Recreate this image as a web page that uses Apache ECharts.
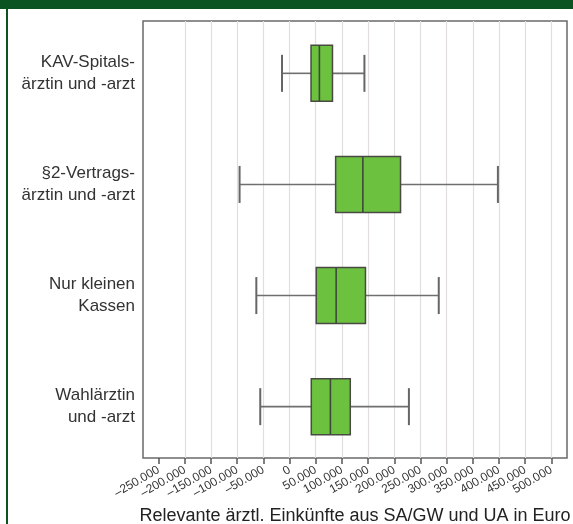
<!DOCTYPE html>
<html>
<head>
<meta charset="utf-8">
<style>
  html, body { margin: 0; padding: 0; background: #ffffff; }
  #chart { width: 573px; height: 524px; }
</style>
<script src="https://cdn.jsdelivr.net/npm/echarts@6/dist/echarts.min.js"></script>
</head>
<body>
<div id="chart"></div>
<script>
// ---- data ----
const categories = [
  'KAV-Spitals-\närztin und -arzt',
  '§2-Vertrags-\närztin und -arzt',
  'Nur kleinen\nKassen',
  'Wahlärztin\nund -arzt'
];
const whiskerLow  = [-14500, -95500, -63500, -56000];
const quartile1   = [41000, 88000, 51000, 41500];
const medians     = [57000, 140000, 89000, 78000];
const quartile3   = [82000, 212000, 145000, 116000];
const whiskerHigh = [143000, 398000, 285000, 228000];
const tickValues = [-250000, -200000, -150000, -100000, -50000, 0, 50000, 100000, 150000, 200000, 250000, 300000, 350000, 400000, 450000, 500000];
const tickLabels = ['–250.000', '–200.000', '–150.000', '–100.000', '–50.000', '0', '50.000', '100.000', '150.000', '200.000', '250.000', '300.000', '350.000', '400.000', '450.000', '500.000'];
const axisTitle = 'Relevante ärztl. Einkünfte aus SA/GW und UA in Euro';

const seriesData = categories.map((c, i) => [i, whiskerLow[i], quartile1[i], medians[i], quartile3[i], whiskerHigh[i]]);

const FONT = '"Liberation Sans", Arial, Helvetica, sans-serif';
const chart = echarts.init(document.getElementById('chart'), null, { renderer: 'canvas' });

const gridLineColors = tickValues.map((v, i) => i === 0 ? 'rgba(0,0,0,0)' : '#e2dede');

const option = {
  backgroundColor: '#ffffff',
  animation: false,
  textStyle: { fontFamily: FONT },
  graphic: [
    { type: 'rect', left: 0, top: 0, shape: { width: 573, height: 9 }, style: { fill: '#0b5321' }, z: 100 },
    { type: 'rect', left: 6, top: 0, shape: { width: 2, height: 524 }, style: { fill: '#0b5321' }, z: 100 }
  ],
  grid: {
    left: 143, right: 6, top: 21, bottom: 66,
    outerBoundsMode: 'none',
    containLabel: false,
    show: true, borderColor: '#6a6a6a', borderWidth: 1.5, backgroundColor: 'transparent'
  },
  xAxis: {
    type: 'value',
    position: 'bottom',
    min: -280000,
    max: 530000,
    axisLine: { show: false, onZero: false },
    axisTick: {
      show: true, length: 6, customValues: tickValues,
      lineStyle: { color: '#555', width: 1.5 }
    },
    splitLine: {
      show: true,
      lineStyle: { color: gridLineColors, width: 1.2 }
    },
    axisLabel: {
      customValues: tickValues,
      rotate: 30,
      margin: 11,
      fontSize: 12,
      color: '#333',
      fontFamily: FONT,
      formatter: function (v) {
        const idx = tickValues.indexOf(v);
        return idx >= 0 ? tickLabels[idx] : '';
      }
    },
    name: axisTitle,
    nameLocation: 'middle',
    nameGap: 49,
    nameTextStyle: { fontSize: 18, color: '#222', fontFamily: FONT }
  },
  yAxis: {
    type: 'value',
    position: 'left',
    inverse: true,
    min: -0.471,
    max: 3.462,
    axisLine: { show: false, onZero: false },
    axisTick: { show: false },
    splitLine: { show: false },
    axisLabel: {
      customValues: [0, 1, 2, 3],
      margin: 8,
      fontSize: 17,
      lineHeight: 22,
      color: '#333',
      fontFamily: FONT,
      align: 'right',
      formatter: function (v) { return categories[Math.round(v)] || ''; }
    }
  },
  series: [{
    type: 'custom',
    data: seriesData,
    encode: { x: [1, 2, 3, 4, 5], y: 0 },
    renderItem: function (params, api) {
      const y = api.value(0);
      const pLow = api.coord([api.value(1), y]);
      const pQ1 = api.coord([api.value(2), y]);
      const pMed = api.coord([api.value(3), y]);
      const pQ3 = api.coord([api.value(4), y]);
      const pHigh = api.coord([api.value(5), y]);
      const cy = pMed[1];
      const bh = 56, ch = 37;
      const wStyle = { stroke: '#6f6f6f', lineWidth: 1.6 };
      const cStyle = { stroke: '#666', lineWidth: 2 };
      return {
        type: 'group',
        children: [
          { type: 'line', shape: { x1: pLow[0], y1: cy, x2: pQ1[0], y2: cy }, style: wStyle },
          { type: 'line', shape: { x1: pQ3[0], y1: cy, x2: pHigh[0], y2: cy }, style: wStyle },
          { type: 'line', shape: { x1: pLow[0], y1: cy - ch / 2, x2: pLow[0], y2: cy + ch / 2 }, style: cStyle },
          { type: 'line', shape: { x1: pHigh[0], y1: cy - ch / 2, x2: pHigh[0], y2: cy + ch / 2 }, style: cStyle },
          { type: 'rect', shape: { x: pQ1[0], y: cy - bh / 2, width: pQ3[0] - pQ1[0], height: bh },
            style: { fill: '#6cc13f', stroke: '#4a4a44', lineWidth: 1.5 } },
          { type: 'line', shape: { x1: pMed[0], y1: cy - bh / 2, x2: pMed[0], y2: cy + bh / 2 },
            style: { stroke: '#3d4a38', lineWidth: 1.6 } }
        ]
      };
    }
  }]
};
chart.setOption(option);
</script>
</body>
</html>
